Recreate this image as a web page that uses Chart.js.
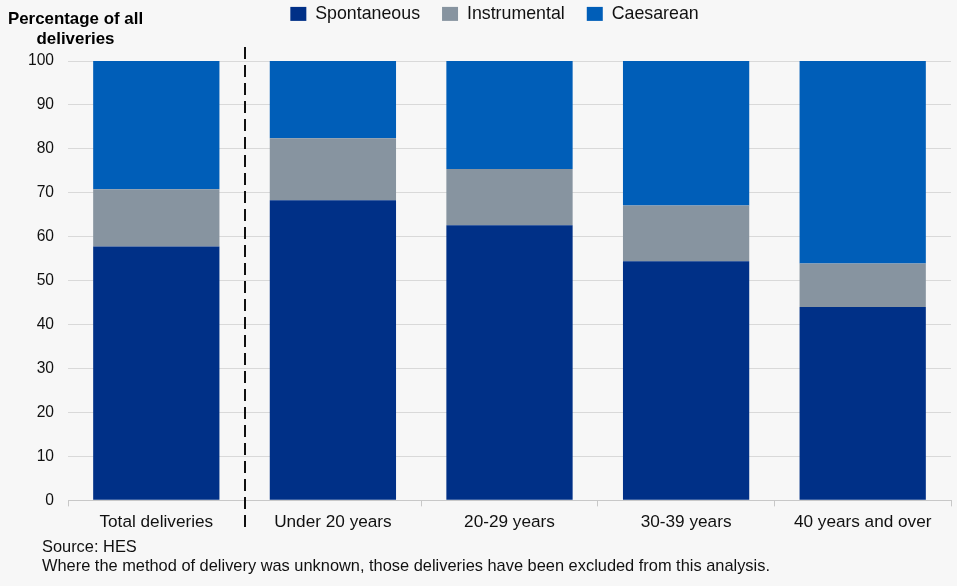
<!DOCTYPE html>
<html>
<head>
<meta charset="utf-8">
<script src="https://cdn.jsdelivr.net/npm/chart.js@4"></script>
<style>
  html, body { margin: 0; padding: 0; background: #f7f7f7; }
  body { width: 957px; height: 586px; position: relative; overflow: hidden; font-family: "Liberation Sans", Arial, sans-serif; }
  #wrap { position: absolute; left: 0; top: 0; width: 957px; height: 539px; }
  #ytitle { position: absolute; left: 4px; top: 9px; width: 143px; font-weight: bold; font-size: 16.9px; line-height: 20px; text-align: center; color: #000; }
  #foot { position: absolute; left: 42px; top: 537px; font-size: 16.4px; line-height: 19px; color: #111; }
</style>
</head>
<body>
<div id="wrap"><canvas id="chart"></canvas></div>
<div id="ytitle">Percentage of all deliveries</div>
<div id="foot">Source: HES<br>Where the method of delivery was unknown, those deliveries have been excluded from this analysis.</div>
<script>
// categories + series (percent of deliveries)
const categories = ["Total deliveries", "Under 20 years", "20-29 years", "30-39 years", "40 years and over"];
const spontaneous = [57.8, 68.3, 62.6, 54.4, 44.0];
const instrumental = [13.0, 14.1, 12.8, 12.7, 9.9];
const caesarean = [29.2, 17.6, 24.6, 32.9, 46.1];

const yTicks = [0, 10, 20, 30, 40, 50, 60, 70, 80, 90, 100];

// dashed separator between "Total deliveries" and the age groups
const separator = {
  id: "separator",
  afterDraw(chart) {
    const x = chart.scales.x;
    const ctx = chart.ctx;
    const pos = Math.round((x.getPixelForValue(0) + x.getPixelForValue(1)) / 2);
    ctx.save();
    ctx.strokeStyle = "#111";
    ctx.lineWidth = 2;
    ctx.setLineDash([12, 6]);
    ctx.beginPath();
    ctx.moveTo(pos, 47);
    ctx.lineTo(pos, 529);
    ctx.stroke();
    ctx.restore();
  }
};

// push the plot down below the legend, nudge legend to the right a bit
const legendSpace = {
  id: "legendSpace",
  beforeInit(chart) {
    const legend = chart.legend;
    const fit = legend.fit;
    legend.fit = function () {
      fit.call(this);
      this.height = 78;
    };
    const draw = legend.draw;
    legend.draw = function () {
      this.ctx.save();
      this.ctx.translate(19, 0);
      draw.apply(this, arguments);
      this.ctx.restore();
    };
  }
};

new Chart(document.getElementById("chart"), {
  type: "bar",
  data: {
    labels: categories,
    datasets: [
      { label: "Spontaneous", data: spontaneous, backgroundColor: "#003087" },
      { label: "Instrumental", data: instrumental, backgroundColor: "#8794a0" },
      { label: "Caesarean", data: caesarean, backgroundColor: "#005eb8" }
    ]
  },
  options: {
    responsive: true,
    maintainAspectRatio: false,
    animation: false,
    layout: { padding: { left: 0, right: 6, top: -17, bottom: 0 } },
    datasets: { bar: { categoryPercentage: 1, barPercentage: 0.715 } },
    plugins: {
      legend: {
        position: "top",
        labels: {
          boxWidth: 16, boxHeight: 14, padding: 22,
          color: "#111",
          font: { family: "Liberation Sans", size: 17.8 }
        }
      },
      tooltip: { enabled: false }
    },
    scales: {
      x: {
        stacked: true,
        offset: true,
        grid: { display: true, drawOnChartArea: false, offset: true, color: "#c8c8c8", tickLength: 6 },
        border: { color: "#c8c8c8" },
        ticks: { color: "#111", font: { family: "Liberation Sans", size: 17.2 }, padding: 6 }
      },
      y: {
        stacked: true,
        min: 0, max: 100,
        afterBuildTicks(axis) { axis.ticks = yTicks.map(v => ({ value: v })); },
        afterFit(axis) { axis.width = 68; },
        grid: { color: "#d9d9d9", drawTicks: false },
        border: { display: false },
        ticks: { color: "#111", font: { family: "Liberation Sans", size: 15.6 }, padding: 14 }
      }
    }
  },
  plugins: [separator, legendSpace]
});
</script>
</body>
</html>
